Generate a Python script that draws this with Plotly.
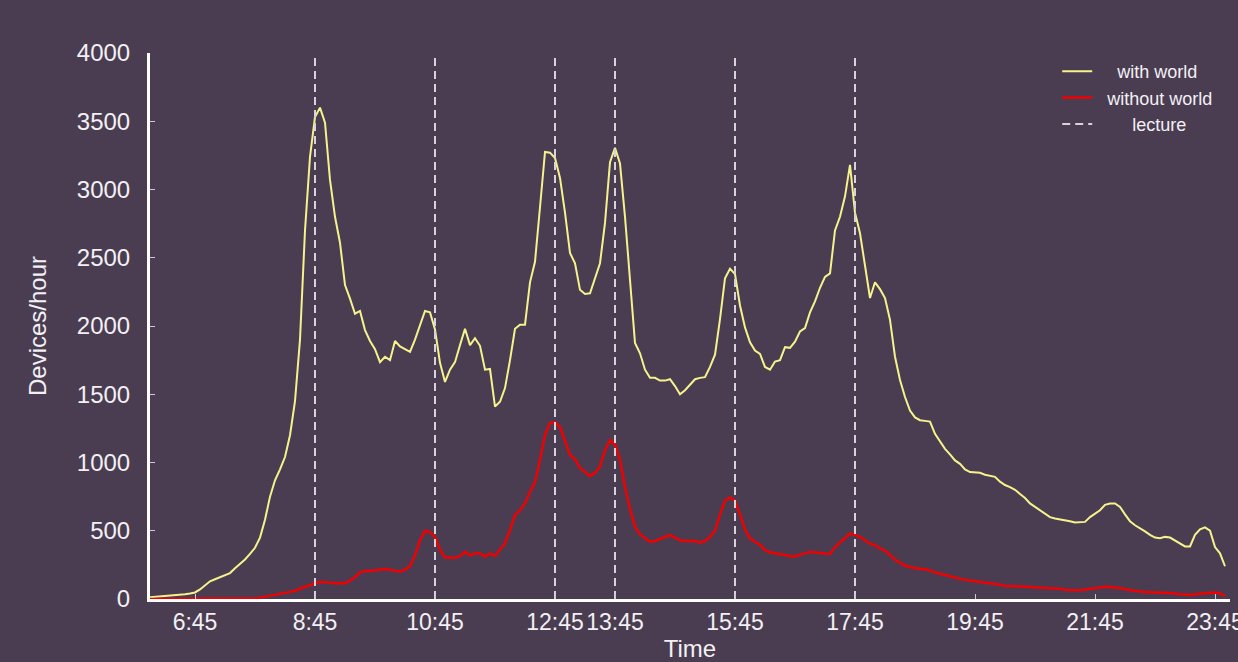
import plotly.graph_objects as go
import pandas as pd

# Devices/hour sampled every 5 minutes from 06:00 (one row per hour)
with_world = [
    12, 15, 18, 20, 22, 25, 30, 35, 40, 48, 70, 100,
    130, 145, 160, 175, 190, 225, 255, 290, 330, 375, 450, 580,
    750, 870, 950, 1040, 1200, 1450, 1900, 2700, 3240, 3530, 3600, 3490,
    3070, 2800, 2610, 2300, 2200, 2090, 2110, 1970, 1890, 1830, 1735, 1775,
    1750, 1890, 1850, 1830, 1810, 1900, 2000, 2110, 2100, 1975, 1730, 1590,
    1680, 1735, 1860, 1980, 1860, 1910, 1855, 1680, 1685, 1410, 1445, 1545,
    1750, 1980, 2010, 2010, 2320, 2470, 2870, 3275, 3270, 3230, 3085, 2830,
    2535, 2460, 2265, 2235, 2240, 2350, 2460, 2755, 3200, 3305, 3190, 2800,
    2350, 1875, 1800, 1680, 1620, 1620, 1600, 1600, 1610, 1560, 1500, 1530,
    1570, 1610, 1620, 1625, 1700, 1790, 2050, 2350, 2420, 2380, 2150, 1990,
    1880, 1820, 1795, 1700, 1680, 1740, 1750, 1845, 1840, 1885, 1960, 1985,
    2100, 2180, 2280, 2360, 2385, 2700, 2800, 2950, 3180, 2830, 2680, 2450,
    2205, 2320, 2270, 2205, 2045, 1775, 1605, 1480, 1380, 1330, 1310, 1305,
    1300, 1210, 1150, 1100, 1060, 1015, 990, 950, 930, 925, 925, 910,
    900, 895, 860, 835, 820, 800, 770, 740, 700, 675, 650, 620,
    600, 590, 585, 580, 570, 560, 565, 565, 600, 625, 650, 690,
    700, 700, 675, 620, 570, 540, 520, 495, 470, 450, 445, 455,
    450, 430, 410, 385, 385, 470, 510, 525, 500, 380, 335, 240,
]

without_world = [
    0, 0, 0, 0, 0, 0, 0, 0, 0, 0, 0, 0,
    0, 0, 0, 0, 0, 0, 0, 0, 2, 5, 10, 18,
    25, 32, 38, 45, 52, 60, 75, 90, 105, 115, 125, 125,
    120, 115, 115, 115, 135, 160, 195, 205, 205, 210, 215, 220,
    215, 205, 200, 215, 240, 320, 430, 500, 490, 455, 360, 305,
    300, 300, 315, 345, 320, 335, 335, 310, 335, 315, 360, 410,
    505, 615, 650, 700, 785, 855, 1020, 1200, 1290, 1295, 1260, 1165,
    1055, 1025, 960, 930, 900, 925, 970, 1090, 1165, 1130, 1020, 820,
    660, 530, 475, 445, 420, 425, 440, 455, 470, 450, 430, 425,
    425, 425, 415, 425, 455, 500, 620, 720, 745, 720, 620, 510,
    445, 420, 395, 360, 340, 335, 330, 320, 315, 310, 325, 335,
    345, 340, 335, 330, 330, 380, 415, 445, 480, 470, 455, 430,
    405, 395, 370, 355, 320, 290, 265, 245, 235, 225, 220, 220,
    205, 195, 185, 175, 165, 155, 145, 140, 135, 130, 125, 122,
    120, 112, 105, 97, 95, 92, 90, 88, 87, 86, 85, 82,
    80, 78, 75, 68, 65, 65, 65, 70, 80, 85, 90, 90,
    88, 85, 80, 72, 65, 60, 55, 52, 48, 45, 45, 45,
    45, 40, 35, 32, 30, 35, 40, 42, 45, 45, 42, 20,
]

tick_labels = ["6:45", "8:45", "10:45", "12:45", "13:45", "15:45",
               "17:45", "19:45", "21:45", "23:45"]
lecture_times = ["8:45", "10:45", "12:45", "13:45", "15:45", "17:45"]

DAY = "2000-01-01 "
def ts(label):
    h, m = label.split(":")
    return pd.Timestamp(DAY + f"{int(h):02d}:{m}")

times = pd.date_range(DAY + "06:00", periods=len(with_world), freq="5min")

BG = "#4a3d52"
YELLOW = "#f6f28c"
RED = "#f00000"
TXT = "#f2f0f2"
NB = "\u00a0"

fig = go.Figure()
fig.add_trace(go.Scatter(x=times, y=with_world, mode="lines",
                         name=NB * 4 + "with world",
                         line=dict(color=YELLOW, width=2)))
fig.add_trace(go.Scatter(x=times, y=without_world, mode="lines",
                         name=NB * 2 + "without world",
                         line=dict(color=RED, width=2.5)))

lx, ly = [], []
for t in lecture_times:
    lx += [ts(t), ts(t), None]
    ly += [0, 4000, None]
fig.add_trace(go.Scatter(x=lx, y=ly, mode="lines", name=NB * 7 + "lecture",
                         line=dict(color="#d8d2da", width=2, dash="8px,5px")))

fig.update_layout(
    width=1238, height=662,
    paper_bgcolor=BG, plot_bgcolor=BG,
    margin=dict(l=150, r=8, t=53, b=63, autoexpand=False),
    font=dict(family="Liberation Sans, Arial, sans-serif", color=TXT, size=24),
    showlegend=True,
    legend=dict(x=0.84, y=1.0, xanchor="left", yanchor="top",
                bgcolor="rgba(0,0,0,0)", font=dict(size=18, color=TXT),
                tracegroupgap=0),
    xaxis=dict(
        range=[ts("6:00"), pd.Timestamp("2000-01-02 00:00")],
        tickvals=[ts(t) for t in tick_labels], ticktext=tick_labels,
        tickangle=0, ticklabeloverflow="allow", automargin=False,
        showgrid=False, zeroline=False,
        showline=True, linecolor="white", linewidth=3,
        ticks="inside", ticklen=5, tickcolor="#cfc8d2", tickwidth=1,
        tickfont=dict(size=23, color=TXT), ticklabelstandoff=0,
        title=dict(text="Time", font=dict(size=24, color=TXT), standoff=14),
    ),
    yaxis=dict(
        range=[0, 4000], tickvals=[0, 500, 1000, 1500, 2000, 2500, 3000, 3500, 4000],
        automargin=False,
        showgrid=False, zeroline=False,
        showline=True, linecolor="white", linewidth=3,
        ticks="inside", ticklen=5, tickcolor="#cfc8d2", tickwidth=1,
        tickfont=dict(size=24, color=TXT), ticklabelstandoff=12,
        title=dict(text="Devices/hour", font=dict(size=24, color=TXT), standoff=24),
    ),
)

fig.write_html("out.html", config={"displayModeBar": False},
               post_script="document.body.style.margin='0';")
